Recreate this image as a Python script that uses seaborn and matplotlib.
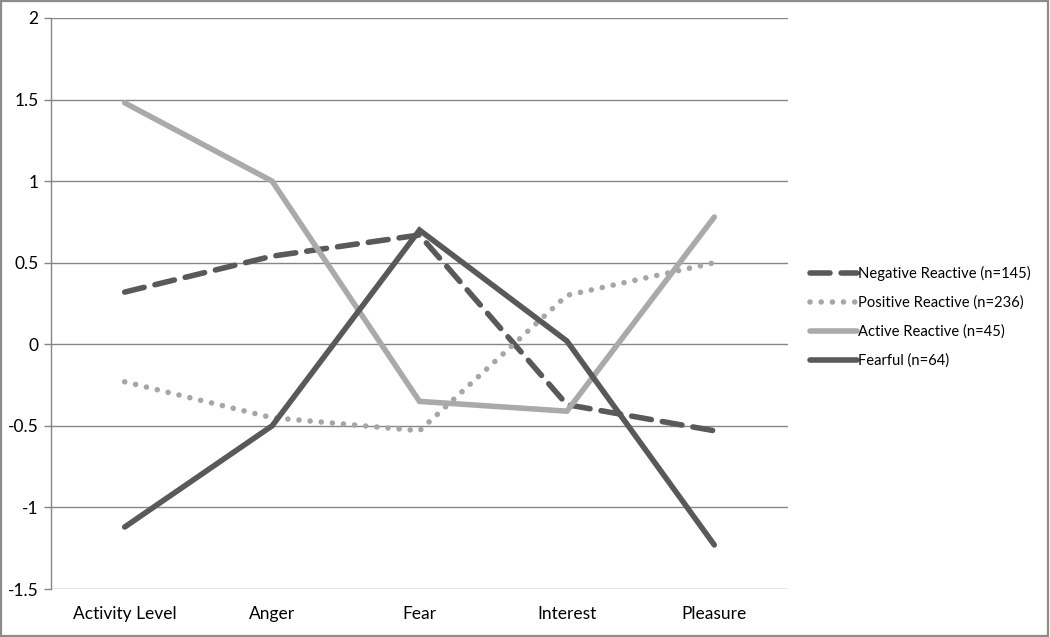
import matplotlib
matplotlib.use("Agg")
import matplotlib.pyplot as plt
import seaborn as sns
import pandas as pd
from matplotlib.patches import Rectangle

categories = ["Activity Level", "Anger", "Fear", "Interest", "Pleasure"]
negative_reactive = [0.32, 0.54, 0.67, -0.37, -0.53]
positive_reactive = [-0.23, -0.45, -0.53, 0.30, 0.50]
active_reactive = [1.48, 1.00, -0.35, -0.41, 0.78]
fearful = [-1.12, -0.50, 0.70, 0.02, -1.23]
series_names = ["Negative Reactive (n=145)", "Positive Reactive (n=236)",
                "Active Reactive (n=45)", "Fearful (n=64)"]
y_ticks = [-1.5, -1, -0.5, 0, 0.5, 1, 1.5, 2]
y_tick_labels = ["-1.5", "-1", "-0.5", "0", "0.5", "1", "1.5", "2"]

sns.set_theme(style="white")
plt.rcParams["font.family"] = ["Lato", "DejaVu Sans"]

fig = plt.figure(figsize=(10.5, 6.37), dpi=100)
ax = fig.add_axes([51/1050, 1-589/637, (788-51)/1050, (589-18)/637])

dark = "#595959"
light = "#a6a6a6"
grid = "#868686"

styles = [
    dict(color=dark, dashes=(3.6, 2.0), dash_capstyle="round"),
    dict(color=light, dashes=(0.01, 2.0), dash_capstyle="round"),
    dict(color="#aaaaaa"),
    dict(color=dark),
]
values = [negative_reactive, positive_reactive, active_reactive, fearful]
x = list(range(len(categories)))
for name, vals, st in zip(series_names, values, styles):
    df = pd.DataFrame({"x": x, "y": vals})
    line_kw = dict(lw=4.0, solid_capstyle="round", solid_joinstyle="miter")
    line_kw.update({k: v for k, v in st.items() if k != "color"})
    sns.lineplot(data=df, x="x", y="y", ax=ax, color=st["color"], label=name, **line_kw)

ax.set_xlim(-0.5, len(categories) - 0.5)
ax.set_ylim(-1.5, 2)
ax.set_yticks(y_ticks)
ax.set_yticklabels(y_tick_labels)
ax.set_xticks(x)
ax.set_xticklabels(categories)
ax.set_xlabel("")
ax.set_ylabel("")
ax.yaxis.grid(True, color=grid, lw=1)
ax.set_axisbelow(True)
for s in ["top", "right", "bottom"]:
    ax.spines[s].set_visible(False)
ax.spines["left"].set_color(grid)
ax.spines["left"].set_linewidth(1)
ax.tick_params(axis="y", length=5, color=grid, width=1, labelsize=12.5, pad=4, left=True, labelcolor="black")
ax.tick_params(axis="x", length=0, labelsize=12.5, pad=12, labelcolor="black")

leg = ax.legend(loc="center left", bbox_to_anchor=(810/1050, 1-317/637), bbox_transform=fig.transFigure,
                frameon=False, fontsize=10.6, handlelength=3.2, handletextpad=0.05,
                labelspacing=1.0, borderaxespad=0, borderpad=0)
for t in leg.get_texts():
    t.set_color("black")

fig.patches.append(Rectangle((0.001, 0.002), 0.997, 0.996, transform=fig.transFigure,
                             fill=False, edgecolor="#8c8c8c", lw=1.6))
fig.savefig("out.png", dpi=100, facecolor="white")
